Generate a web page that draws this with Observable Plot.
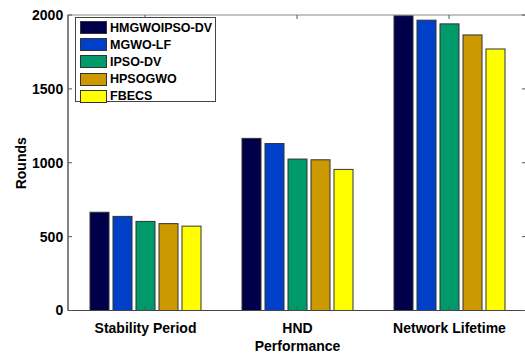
<!DOCTYPE html>
<html>
<head>
<meta charset="utf-8">
<script src="https://cdn.jsdelivr.net/npm/d3@7"></script>
<script src="https://cdn.jsdelivr.net/npm/@observablehq/plot@0.6"></script>
<style>
  body { margin: 0; background: white; overflow: hidden; }
  #wrap { position: relative; width: 525px; height: 356px; overflow: hidden; font-family: "Liberation Sans", Arial, sans-serif; }
  #legend { position: absolute; left: 75px; top: 17px; width: 141px; height: 85px; border: 1px solid #444; background: white; box-sizing: border-box; }
  .row { position: absolute; left: 4px; height: 13px; display: flex; align-items: center; }
  .sw { width: 25px; height: 11px; border: 1px solid #333; margin-right: 3px; }
  .lb { font-weight: bold; font-size: 12.5px; color: #000; white-space: nowrap; }
</style>
</head>
<body>
<div id="wrap"></div>
<script>
const categories = ["Stability Period", "HND", "Network Lifetime"];
const series = ["HMGWOIPSO-DV", "MGWO-LF", "IPSO-DV", "HPSOGWO", "FBECS"];
const stabilityPeriod = [665, 637, 603, 588, 571];
const hnd = [1165, 1130, 1025, 1020, 955];
const networkLifetime = [1995, 1965, 1940, 1865, 1770];
const yTicks = [0, 500, 1000, 1500, 2000];
const colors = ["#00004a", "#0040c8", "#009a6b", "#cc9900", "#ffff00"];

const valuesByCategory = [stabilityPeriod, hnd, networkLifetime];
const data = [];
categories.forEach((c, i) => series.forEach((s, j) => data.push({category: c, series: s, value: valuesByCategory[i][j]})));

const W = 525, ML = 68, MR = -1;
const fxPadOuter = 0.12;
const facetOffset = (W - ML - MR) / 3 * fxPadOuter; // distance from frame left to first facet

const plot = Plot.plot({
  width: W,
  height: 356,
  marginLeft: ML,
  marginRight: MR,
  marginTop: 15,
  marginBottom: 45.5,
  style: {fontFamily: "'Liberation Sans', Arial, sans-serif", fontSize: "14px", fontWeight: "bold", color: "#000", background: "white", overflow: "hidden"},
  fx: {domain: categories, label: "Performance", labelAnchor: "center", labelOffset: 40, labelArrow: false, paddingInner: 0.24, paddingOuter: fxPadOuter, axis: "bottom", tickSize: 0, tickPadding: 12},
  x: {domain: series, axis: null, paddingInner: 0.18, paddingOuter: 0.09},
  y: {domain: [0, 2000], ticks: yTicks, label: "Rounds", labelAnchor: "center", labelArrow: false, labelOffset: 53 + facetOffset, tickSize: 0, tickPadding: 6 + facetOffset, tickFormat: d => String(d)},
  color: {domain: series, range: colors},
  marks: [
    Plot.barY(data, {fx: "category", x: "series", y: "value", fill: "series", stroke: "#333", strokeWidth: 1})
  ]
});

const wrap = document.getElementById("wrap");
wrap.appendChild(plot);

// frame and inward ticks
const svg = d3.select(plot);
const ys = plot.scale("y");
const fxs = plot.scale("fx");
const L = ML, R = W - MR, T = ys.apply(2000), B = ys.apply(0);
const g = svg.append("g").attr("stroke", "#555").attr("fill", "none");
g.append("rect").attr("x", L).attr("y", T).attr("width", R - L).attr("height", B - T).attr("stroke", "#888");
g.append("line").attr("x1", L).attr("x2", L).attr("y1", T).attr("y2", B).attr("stroke", "#444");
g.append("line").attr("x1", L).attr("x2", R).attr("y1", B).attr("y2", B).attr("stroke", "#444");
yTicks.forEach(t => {
  const y = ys.apply(t);
  g.append("line").attr("x1", L).attr("x2", L + 4).attr("y1", y).attr("y2", y);
  g.append("line").attr("x1", R - 4).attr("x2", R).attr("y1", y).attr("y2", y);
});
categories.forEach(c => {
  const x = fxs.apply(c) + fxs.bandwidth / 2;
  g.append("line").attr("x1", x).attr("x2", x).attr("y1", T).attr("y2", T + 4);
  g.append("line").attr("x1", x).attr("x2", x).attr("y1", B).attr("y2", B - 4);
});

// legend
const legend = document.createElement("div");
legend.id = "legend";
series.forEach((s, i) => {
  const row = document.createElement("div");
  row.className = "row";
  row.style.top = (3 + i * 17.2) + "px";
  const sw = document.createElement("div");
  sw.className = "sw";
  sw.style.background = colors[i];
  const lb = document.createElement("span");
  lb.className = "lb";
  lb.textContent = s;
  row.appendChild(sw);
  row.appendChild(lb);
  legend.appendChild(row);
});
wrap.appendChild(legend);
</script>
</body>
</html>
